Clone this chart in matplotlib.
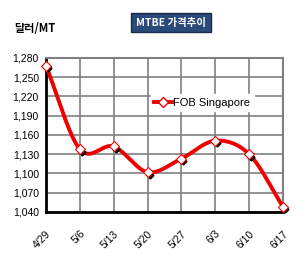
import numpy as np
import matplotlib.pyplot as plt

plt.rcParams['font.family'] = ['Liberation Sans Narrow', 'Liberation Sans',
                               'Noto Sans CJK KR', 'DejaVu Sans']

dates = ['4/29', '5/6', '5/13', '5/20', '5/27', '6/3', '6/10', '6/17']
fob = [1268, 1138, 1142, 1102, 1123, 1151, 1130, 1048]
y_ticks = [1040, 1070, 1100, 1130, 1160, 1190, 1220, 1250, 1280]


def smooth(x, y, n=20):
    # Catmull-Rom curve through the points, like Excel's smoothed line
    x = np.asarray(x, float)
    y = np.asarray(y, float)
    px = np.concatenate([[2 * x[0] - x[1]], x, [2 * x[-1] - x[-2]]])
    py = np.concatenate([[2 * y[0] - y[1]], y, [2 * y[-1] - y[-2]]])
    xs, ys = [], []
    t = np.linspace(0, 1, n, endpoint=False)
    for i in range(1, len(px) - 2):
        for p, out in ((px, xs), (py, ys)):
            p0, p1, p2, p3 = p[i - 1], p[i], p[i + 1], p[i + 2]
            out.extend(0.5 * (2 * p1 + (-p0 + p2) * t
                              + (2 * p0 - 5 * p1 + 4 * p2 - p3) * t ** 2
                              + (-p0 + 3 * p1 - 3 * p2 + p3) * t ** 3))
    xs.append(x[-1])
    ys.append(y[-1])
    return np.array(xs), np.array(ys)


fig = plt.figure(figsize=(3.08, 2.68), dpi=100)
ax = fig.add_axes([0.149, 0.209, 0.77, 0.575])

x = np.arange(len(dates))
sx, sy = smooth(x, fob)
ax.plot(sx, sy, color='#ee0000', lw=2.8, zorder=3, solid_capstyle='round')
ax.plot(x + 0.06, np.array(fob) - 4, 'D', color='black', ms=3.5, zorder=3.5,
        clip_on=False)
ax.plot(x, fob, 'D', mfc='white', mec='#ee0000', mew=0.8, ms=5, zorder=4,
        clip_on=False)
ax.plot([], [], color='#ee0000', lw=2.8, marker='D', mfc='white', mec='#ee0000',
        ms=5, label='FOB Singapore')

ax.set_xlim(0, len(dates) - 1)
ax.set_ylim(1040, 1280)
ax.set_yticks(y_ticks)
ax.set_yticklabels([f'{v:,}' for v in y_ticks], fontsize=7.5)
ax.set_xticks(x)
ax.set_xticklabels(dates, fontsize=7.5, rotation=45, ha='right',
                   rotation_mode='anchor')
ax.tick_params(axis='both', length=0, pad=5)
ax.tick_params(axis='x', pad=12)
ax.grid(True, color='#808080', lw=1.2)
ax.set_axisbelow(True)
for s in ('top', 'right'):
    ax.spines[s].set_color('#808080')
    ax.spines[s].set_linewidth(1.5)
for s in ('left', 'bottom'):
    ax.spines[s].set_color('black')
    ax.spines[s].set_linewidth(2)

leg = ax.legend(loc='center', bbox_to_anchor=(0.66, 0.71), frameon=True,
                fontsize=8, handlelength=1.6, handletextpad=0.1,
                borderpad=0.3, fancybox=False, framealpha=1)
leg.get_frame().set_edgecolor('white')

fig.text(0.045, 0.895, '달러/MT', fontsize=8, va='center', weight='bold',
         family=['Noto Sans CJK KR', 'DejaVu Sans'])
fig.text(0.555, 0.915, 'MTBE 가격추이', fontsize=7.5, color='white', ha='center',
         va='center', weight='bold', family=['Noto Sans CJK KR', 'DejaVu Sans'],
         bbox=dict(boxstyle='square,pad=0.45', fc='#2a4a7a', ec='#1a2a4a'))

fig.savefig('out.png', dpi=100)
